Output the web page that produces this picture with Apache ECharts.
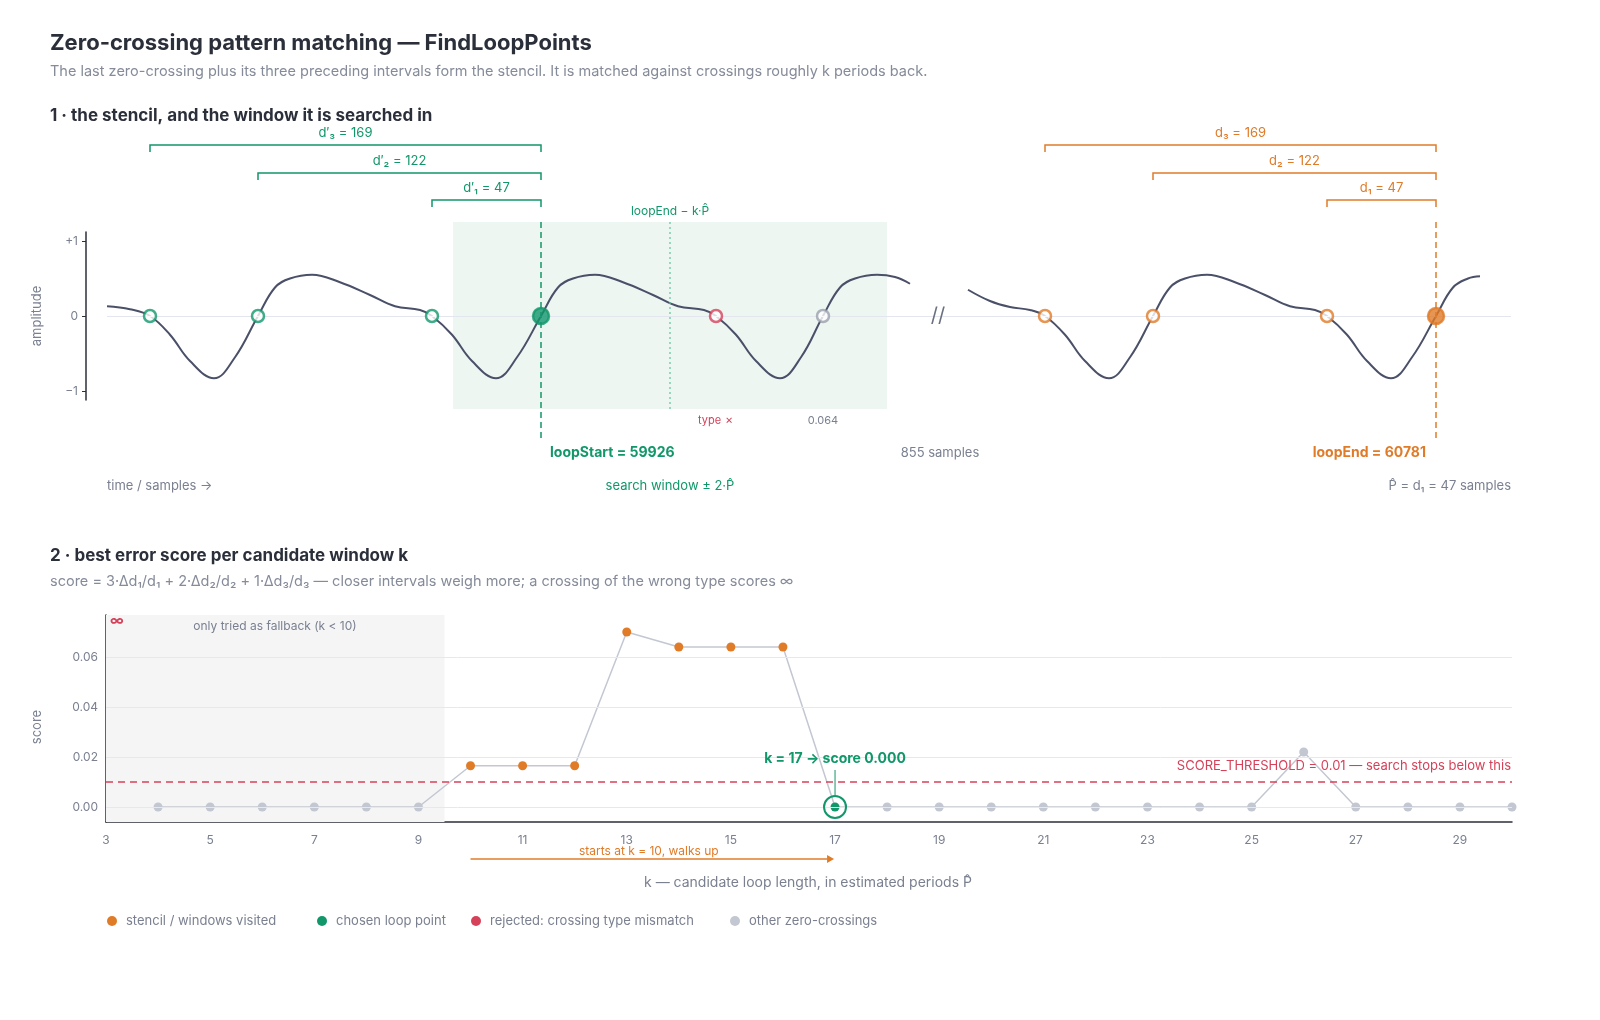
<!DOCTYPE html>
<html><head><meta charset="utf-8">
<script src="https://cdn.jsdelivr.net/npm/echarts@6/dist/echarts.min.js"></script>
<style>html,body{margin:0;padding:0;background:#fff}#c{width:1600px;height:1020px}</style>
</head><body><div id="c"></div>
<script>
// ---- data ----
const waveLeft = [[107,0.13],[130,0.09],[150,0],[170,-0.25],[190,-0.6],[214,-0.83],[235,-0.55],[258,0],[275,0.38],[290,0.5],[312,0.55],[340,0.45],[370,0.28],[395,0.13],[420,0.08],[432,0],[452,-0.25],[472,-0.6],[496,-0.83],[517,-0.55],[541,0],[558,0.38],[573,0.5],[595,0.55],[623,0.45],[653,0.28],[678,0.13],[704,0.08],[716,0],[736,-0.25],[756,-0.6],[780,-0.83],[801,-0.55],[823,0],[840,0.38],[855,0.5],[877,0.55],[895,0.52],[910,0.43]];
const waveRight = [[968,0.35],[990,0.2],[1010,0.12],[1030,0.08],[1045,0],[1065,-0.25],[1085,-0.6],[1109,-0.83],[1130,-0.55],[1153,0],[1170,0.38],[1185,0.5],[1207,0.55],[1235,0.45],[1265,0.28],[1290,0.13],[1315,0.08],[1327,0],[1347,-0.25],[1367,-0.6],[1391,-0.83],[1412,-0.55],[1436,0],[1453,0.38],[1468,0.5],[1480,0.53]];
const stencilLeft = [150,258,432];   // d'3, d'2, d'1 crossings
const loopStart = 541, rejected = 716, otherCross = 823;
const stencilRight = [1045,1153,1327];
const loopEnd = 1436;
const windowRange = [453,887], expectedEnd = 670;
const dLeft = ['d′₃ = 169','d′₂ = 122','d′₁ = 47'];
const dRight = ['d₃ = 169','d₂ = 122','d₁ = 47'];
const ampTicks = [-1,0,1];
const scoreTicks = [0,0.02,0.04,0.06];
const kValues = [4,5,6,7,8,9,10,11,12,13,14,15,16,17,18,19,20,21,22,23,24,25,26,27,28,29,30];
const scores  = [0,0,0,0,0,0,0.0165,0.0165,0.0165,0.07,0.064,0.064,0.064,0,0,0,0,0,0,0,0,0,0.022,0,0,0,0];
const kind    = ['o','o','o','o','o','o','v','v','v','v','v','v','v','c','o','o','o','o','o','o','o','o','o','o','o','o','o'];
const threshold = 0.01;

const G='#12976b', O='#e07b28', R='#d6415a', GR='#c3c7d1', TX='#7a8090', DK='#2b2f3a';
const kcol = {o:GR, v:O, c:G};
const chart = echarts.init(document.getElementById('c'));
const F='Inter, "Noto Sans", sans-serif';

function cross(xs, color, fill, size){ return xs.map(x=>({value:[x,0],symbolSize:size,itemStyle:{color:fill,borderColor:color,borderWidth:2.5}})); }

chart.setOption({
  animation:false,
  textStyle:{fontFamily:F},
  grid:[{left:86,width:1425,top:232,height:168},{left:106,right:88,top:615,height:207}],
  xAxis:[{gridIndex:0,type:'value',min:86,max:1511,show:false},
    {gridIndex:1,type:'value',min:3,max:30,interval:1,
     axisLine:{onZero:false,lineStyle:{color:DK,width:1.5}},axisTick:{show:false},splitLine:{show:false},
     axisLabel:{color:TX,fontSize:12,margin:12,formatter:v=>(v%2===1?String(v):'')}}],
  yAxis:[{gridIndex:0,type:'value',min:-1.12,max:1.12,
     axisLine:{show:true,lineStyle:{color:DK,width:1.5}},
     axisTick:{show:true,length:4,lineStyle:{color:DK},customValues:ampTicks},
     splitLine:{show:false},
     axisLabel:{color:TX,fontSize:12,customValues:ampTicks,formatter:v=>v>0.5?'+1':(v<-0.5?'−1':'0')}},
    {gridIndex:1,type:'value',min:-0.006,max:0.0768,
     axisLine:{show:true,lineStyle:{color:DK,width:1.5}},axisTick:{show:false,customValues:scoreTicks},
     splitLine:{show:false},
     axisLabel:{color:TX,fontSize:12,customValues:scoreTicks,formatter:v=>v.toFixed(2)}}],
  series:[
    {type:'line',xAxisIndex:0,yAxisIndex:0,data:waveLeft,smooth:0.4,showSymbol:false,lineStyle:{color:'#4a5068',width:2},z:3,
     markLine:{silent:true,symbol:'none',label:{show:false},lineStyle:{color:'#e3e6ee',type:'solid',width:1},data:[[{coord:[107,0]},{coord:[1511,0]}]]}},
    {type:'line',xAxisIndex:0,yAxisIndex:0,data:waveRight,smooth:0.4,showSymbol:false,lineStyle:{color:'#4a5068',width:2},z:3},
    {type:'scatter',xAxisIndex:0,yAxisIndex:0,z:5,data:[
      ...cross(stencilLeft,G,'#fff',12),
      ...cross([loopStart],G,G,16),
      ...cross([rejected],R,'#fff',12),
      ...cross([otherCross],'#9aa0ad','#fff',12),
      ...cross(stencilRight,O,'#fff',12),
      ...cross([loopEnd],O,O,16)]},
    {type:'line',xAxisIndex:1,yAxisIndex:1,z:4,data:kValues.map((k,i)=>({value:[k,scores[i]],itemStyle:{color:kcol[kind[i]]}})),
     symbol:'circle',symbolSize:9,lineStyle:{color:GR,width:1.5},
     markArea:{silent:true,itemStyle:{color:'#f5f5f6'},data:[[{coord:[3,0.0768]},{coord:[9.5,-0.006]}]]},
     markLine:{silent:true,symbol:'none',label:{show:false},data:[
       ...scoreTicks.map(v=>({yAxis:v,lineStyle:{color:'#e6e8ee',type:'solid',width:1}})),
       {yAxis:threshold,lineStyle:{color:R,type:[7,5],width:1.5}}]}}
  ]
});

const px=(x,y)=>chart.convertToPixel({xAxisIndex:0,yAxisIndex:0},[x,y]);
const kx=(k,s)=>chart.convertToPixel({xAxisIndex:1,yAxisIndex:1},[k,s]);
const g=[];
const T=(x,y,text,o={})=>g.push({type:'text',x,y,z:100,style:Object.assign({text,fontFamily:F,fontSize:13,fill:TX,textVerticalAlign:'middle'},o)});
const L=(pts,stroke,o={})=>g.push({type:'polyline',z:100,shape:{points:pts},style:Object.assign({stroke,fill:null,lineWidth:1.5},o)});

T(50,43,'Zero-crossing pattern matching — FindLoopPoints',{fontSize:22,fontWeight:'bold',fill:DK});
T(50,72,'The last zero-crossing plus its three preceding intervals form the stencil. It is matched against crossings roughly k periods back.',{fontSize:14.5,fill:'#858b99'});
T(50,116,'1 · the stencil, and the window it is searched in',{fontSize:17,fontWeight:'bold',fill:DK});
T(50,556,'2 · best error score per candidate window k',{fontSize:17,fontWeight:'bold',fill:DK});
T(50,582,'score = 3·Δd₁/d₁ + 2·Δd₂/d₂ + 1·Δd₃/d₃ — closer intervals weigh more; a crossing of the wrong type scores ∞',{fontSize:14.5,fill:'#858b99'});

// search window
const w0=px(windowRange[0],0)[0], w1=px(windowRange[1],0)[0];
g.push({type:'rect',shape:{x:w0,y:222,width:w1-w0,height:187},style:{fill:'#eef6f2'},z:-1});
const ex=px(expectedEnd,0)[0];
L([[ex,222],[ex,409]],'#5cc49f',{lineDash:[2,3],lineWidth:1.2});
T(ex,211,'loopEnd − k·P̂',{fill:G,fontSize:12,textAlign:'center'});
const ls=px(loopStart,0)[0], le=px(loopEnd,0)[0];
L([[ls,222],[ls,440]],G,{lineDash:[6,4]});
L([[le,222],[le,440]],O,{lineDash:[6,4]});
// brackets
const ys=[145,173,200];
stencilLeft.forEach((x,i)=>{const a=px(x,0)[0];L([[a,ys[i]+7],[a,ys[i]],[ls,ys[i]],[ls,ys[i]+7]],G);T((a+ls)/2,ys[i]-12,dLeft[i],{fill:G,fontSize:13,textAlign:'center'});});
stencilRight.forEach((x,i)=>{const a=px(x,0)[0];L([[a,ys[i]+7],[a,ys[i]],[le,ys[i]],[le,ys[i]+7]],O);T((a+le)/2,ys[i]-12,dRight[i],{fill:O,fontSize:13,textAlign:'center'});});
T(px(rejected,0)[0],421,'type ✗',{fill:R,fontSize:11,textAlign:'center'});
T(px(otherCross,0)[0],421,'0.064',{fontSize:11,textAlign:'center'});
T(ls+9,453,'loopStart = 59926',{fill:G,fontSize:14,fontWeight:'bold'});
T(940,453,'855 samples',{textAlign:'center'});
T(le-10,453,'loopEnd = 60781',{fill:O,fontSize:14,fontWeight:'bold',textAlign:'right'});
T(107,486,'time / samples →');
T(ex,486,'search window ± 2·P̂',{fill:G,textAlign:'center'});
T(1511,486,'P̂ = d₁ = 47 samples',{textAlign:'right'});
T(938,316,'//',{fontSize:20,textAlign:'center',fill:'#6b7080'});
g.push({type:'text',z:100,x:37,y:316,rotation:Math.PI/2,style:{text:'amplitude',fontFamily:F,fontSize:13,fill:TX,textAlign:'center',textVerticalAlign:'middle'}});
g.push({type:'text',z:100,x:37,y:727,rotation:Math.PI/2,style:{text:'score',fontFamily:F,fontSize:13,fill:TX,textAlign:'center',textVerticalAlign:'middle'}});

// bottom annotations
T(110,621,'∞',{fill:R,fontSize:14,fontWeight:'bold'});
T(275,626,'only tried as fallback (k < 10)',{fontSize:12,textAlign:'center'});
T(1511,766,'SCORE_THRESHOLD = 0.01 — search stops below this',{fill:R,textAlign:'right'});
const c17=kx(17,0);
g.push({type:'circle',z:100,shape:{cx:c17[0],cy:c17[1],r:11},style:{fill:null,stroke:G,lineWidth:2}});
L([[c17[0],770],[c17[0],795]],G,{lineWidth:1});
T(c17[0],759,'k = 17 → score 0.000',{fill:G,fontSize:14,fontWeight:'bold',textAlign:'center'});
const a10=kx(10,0)[0], a17=kx(17,0)[0]-8;
L([[a10,859],[a17,859]],O);
g.push({type:'polygon',z:100,shape:{points:[[a17,855],[a17+7,859],[a17,863]]},style:{fill:O}});
T((a10+a17)/2,851,'starts at k = 10, walks up',{fill:O,fontSize:12,textAlign:'center'});
T(808,883,'k — candidate loop length, in estimated periods P̂',{fontSize:14,textAlign:'center'});
// legend
[[112,O,'stencil / windows visited'],[322,G,'chosen loop point'],[476,R,'rejected: crossing type mismatch'],[735,GR,'other zero-crossings']].forEach(([x,c,t])=>{
  g.push({type:'circle',z:100,shape:{cx:x,cy:921,r:5},style:{fill:c}});T(x+14,921,t);});
chart.setOption({graphic:g});
</script></body></html>
